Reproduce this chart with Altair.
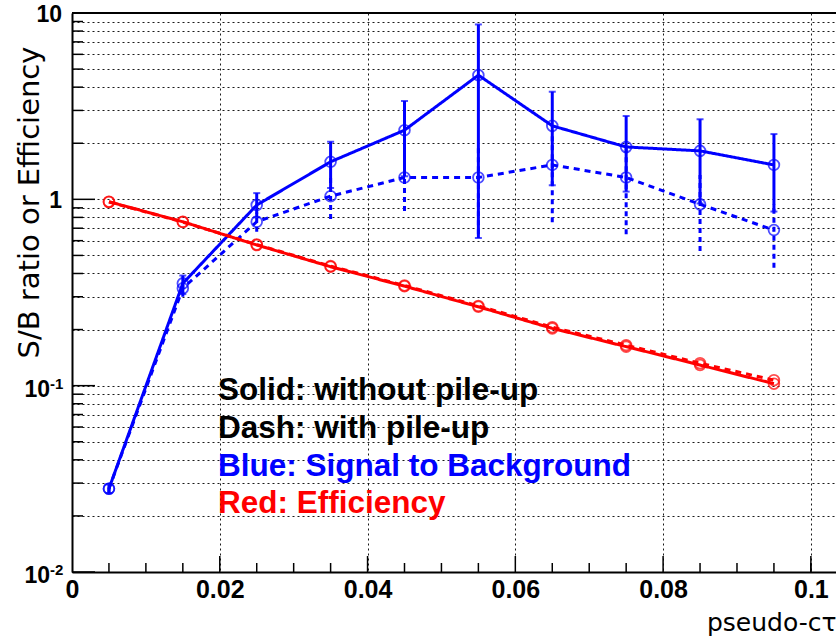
import altair as alt
import pandas as pd

# ---- data ----
x_vals = [0.005, 0.015, 0.025, 0.035, 0.045, 0.055, 0.065, 0.075, 0.085, 0.095]

sb_solid = [0.028, 0.354, 0.932, 1.59, 2.35, 4.64, 2.48, 1.91, 1.82, 1.53]
sb_solid_lo = [0.0265, 0.31, 0.80, 1.15, 1.33, 0.62, 1.19, 1.10, 0.95, 0.86]
sb_solid_hi = [0.0295, 0.39, 1.08, 2.04, 3.37, 8.68, 3.78, 2.80, 2.69, 2.24]

sb_dash = [0.028, 0.333, 0.758, 1.04, 1.31, 1.31, 1.53, 1.31, 0.94, 0.684]
sb_dash_lo = [0.0265, 0.30, 0.67, 0.784, 0.865, 0.65, 0.753, 0.649, 0.528, 0.43]
sb_dash_hi = [0.0295, 0.37, 0.85, 1.30, 1.76, 1.97, 2.31, 1.97, 1.35, 0.94]

eff_solid = [0.971, 0.758, 0.569, 0.435, 0.342, 0.265, 0.203, 0.162, 0.129, 0.1025]
eff_dash = [0.968, 0.755, 0.572, 0.438, 0.345, 0.268, 0.206, 0.165, 0.132, 0.107]

x_major = [0.0, 0.02, 0.04, 0.06, 0.08, 0.1]
x_minor = [0.005, 0.01, 0.015, 0.025, 0.03, 0.035, 0.045, 0.05, 0.055,
           0.065, 0.07, 0.075, 0.085, 0.09, 0.095, 0.1]
y_major = [0.01, 0.1, 1, 10]
y_minor = [0.02, 0.03, 0.04, 0.05, 0.06, 0.07, 0.08, 0.09,
           0.2, 0.3, 0.4, 0.5, 0.6, 0.7, 0.8, 0.9,
           2, 3, 4, 5, 6, 7, 8, 9]
y_grid = sorted(y_major + y_minor)

y_plain_vals = [1, 10]
y_plain_text = ["1", "10"]
y_exp_vals = [0.01, 0.1]
y_exp_base = ["10", "10"]
y_exp_sup = ["-2", "-1"]

legend_lines = ["Solid: without pile-up", "Dash: with pile-up",
                "Blue: Signal to Background", "Red: Efficiency"]
legend_colors = ["#000000", "#000000", "#0000ff", "#ff0000"]

series_names = ["sb_solid", "sb_dash", "eff_solid", "eff_dash"]
series_colors = ["#0000ff", "#0000ff", "#ff0000", "#ff0000"]
series_dash = [[1, 0], [6, 5], [1, 0], [6, 5]]

# ---- tables ----
rows = []
for name, vals in zip(series_names, [sb_solid, sb_dash, eff_solid, eff_dash]):
    for xv, yv in zip(x_vals, vals):
        rows.append({"series": name, "x": xv, "y": yv})
df = pd.DataFrame(rows)

err_solid = pd.DataFrame({"x": x_vals, "lo": sb_solid_lo, "hi": sb_solid_hi})
err_dash = pd.DataFrame({"x": x_vals, "lo": sb_dash_lo, "hi": sb_dash_hi})

W, H = 764, 559

xs = alt.Scale(domain=[0, 0.1034], nice=False, zero=False)
ys = alt.Scale(type="log", domain=[0.01, 10], nice=False)

x_axis = alt.Axis(
    values=x_major, labelExpr="format(datum.value, '.2~f')",
    labelFont="Liberation Sans", labelFontWeight="bold", labelFontSize=25,
    labelColor="black", labelPadding=5, labelFlush=False, labelOverlap=False,
    ticks=False, tickSize=0, domain=True, domainColor="black", domainWidth=2,
    grid=True, gridColor="#000000", gridDash=[2, 3], gridWidth=1, gridOpacity=0.9,
    title="pseudo-cτ", titleFont="DejaVu Sans", titleFontSize=25,
    titleFontWeight="normal", titleColor="black",
    titleX=W, titleY=58, titleAlign="right", titleBaseline="alphabetic",
)
y_axis = alt.Axis(
    values=y_grid, labels=False, ticks=False, tickSize=0,
    domain=True, domainColor="black", domainWidth=2,
    grid=True, gridColor="#000000", gridDash=[2, 3], gridWidth=1, gridOpacity=0.9,
    title="S/B ratio or Efficiency", titleFont="DejaVu Sans", titleFontSize=29,
    titleFontWeight="normal", titleColor="black", titleAngle=270,
    titleX=-34, titleY=189, titleAlign="center", titleBaseline="alphabetic",
)

X = alt.X("x:Q", scale=xs, axis=x_axis)
Y = alt.Y("y:Q", scale=ys, axis=y_axis)

color = alt.Color("series:N", scale=alt.Scale(domain=series_names, range=series_colors), legend=None)
dash = alt.StrokeDash("series:N", scale=alt.Scale(domain=series_names, range=series_dash), legend=None)

base = alt.Chart(df)

lines = base.mark_line(strokeWidth=3).encode(x=X, y=Y, color=color, strokeDash=dash, detail="series:N")
points = base.mark_point(shape="circle", filled=False, size=115, strokeWidth=1.8).encode(
    x=X, y=Y, color=color)

err_d = alt.Chart(err_dash).mark_rule(color="#0000ff", strokeWidth=3, strokeDash=[5, 4]).encode(
    x=X, y=alt.Y("lo:Q", scale=ys, axis=y_axis), y2="hi:Q")
err_s = alt.Chart(err_solid).mark_rule(color="#0000ff", strokeWidth=3).encode(
    x=X, y=alt.Y("lo:Q", scale=ys, axis=y_axis), y2="hi:Q")
cap_hi = alt.Chart(err_solid).mark_tick(color="#0000ff", orient="horizontal", size=7, thickness=2).encode(
    x=X, y=alt.Y("hi:Q", scale=ys, axis=y_axis))
cap_lo = alt.Chart(err_solid).mark_tick(color="#0000ff", orient="horizontal", size=7, thickness=2).encode(
    x=X, y=alt.Y("lo:Q", scale=ys, axis=y_axis))

# inside ticks
xt_minor = alt.Chart(pd.DataFrame({"x": x_minor})).mark_rule(color="black", strokeWidth=1.5).encode(
    x=X, y=alt.value(H), y2=alt.value(H - 9))
xt_major = alt.Chart(pd.DataFrame({"x": x_major[1:]})).mark_rule(color="black", strokeWidth=1.5).encode(
    x=X, y=alt.value(H), y2=alt.value(H - 16))
yt_minor = alt.Chart(pd.DataFrame({"y": y_minor})).mark_rule(color="black", strokeWidth=1.5).encode(
    y=Y, x=alt.value(0), x2=alt.value(11))
yt_major = alt.Chart(pd.DataFrame({"y": y_major})).mark_rule(color="black", strokeWidth=1.5).encode(
    y=Y, x=alt.value(0), x2=alt.value(23))

top_frame = alt.Chart(pd.DataFrame({"y": [10]})).mark_rule(color="black", strokeWidth=2).encode(
    x=alt.value(0), x2=alt.value(W), y=alt.value(0))

# y tick labels
ylab_plain = alt.Chart(pd.DataFrame({"y": y_plain_vals, "t": y_plain_text})).mark_text(
    align="right", baseline="middle", font="Liberation Sans", fontWeight="bold",
    fontSize=23, color="black", dy=2).encode(y=Y, x=alt.value(-10), text="t:N")
ylab_base = alt.Chart(pd.DataFrame({"y": y_exp_vals, "t": y_exp_base})).mark_text(
    align="right", baseline="middle", font="Liberation Sans", fontWeight="bold",
    fontSize=23, color="black", dy=4).encode(y=Y, x=alt.value(-22), text="t:N")
ylab_sup = alt.Chart(pd.DataFrame({"y": y_exp_vals, "t": y_exp_sup})).mark_text(
    align="left", baseline="middle", font="Liberation Sans", fontWeight="bold",
    fontSize=15, color="black", dy=-2).encode(y=Y, x=alt.value(-22), text="t:N")

# annotation text block
leg_layers = []
leg_baselines = [387, 425, 463, 500]
for txt, col, yb in zip(legend_lines, legend_colors, leg_baselines):
    leg_layers.append(
        alt.Chart(pd.DataFrame({"t": [txt]})).mark_text(
            align="left", baseline="alphabetic", font="Liberation Sans", fontWeight="bold",
            fontSize=31.5, color=col).encode(x=alt.value(146), y=alt.value(yb), text="t:N")
    )

chart = alt.layer(
    xt_minor, xt_major, yt_minor, yt_major, top_frame,
    err_d, err_s, cap_hi, cap_lo, lines, points,
    ylab_plain, ylab_base, ylab_sup, *leg_layers,
).properties(
    width=W, height=H,
    autosize=alt.AutoSizeParams(type="none"),
    padding={"left": 72, "top": 13, "right": 0, "bottom": 67},
    background="white",
).configure_view(stroke=None)

chart.save("out.html", embed_options={"renderer": "svg", "actions": False})
